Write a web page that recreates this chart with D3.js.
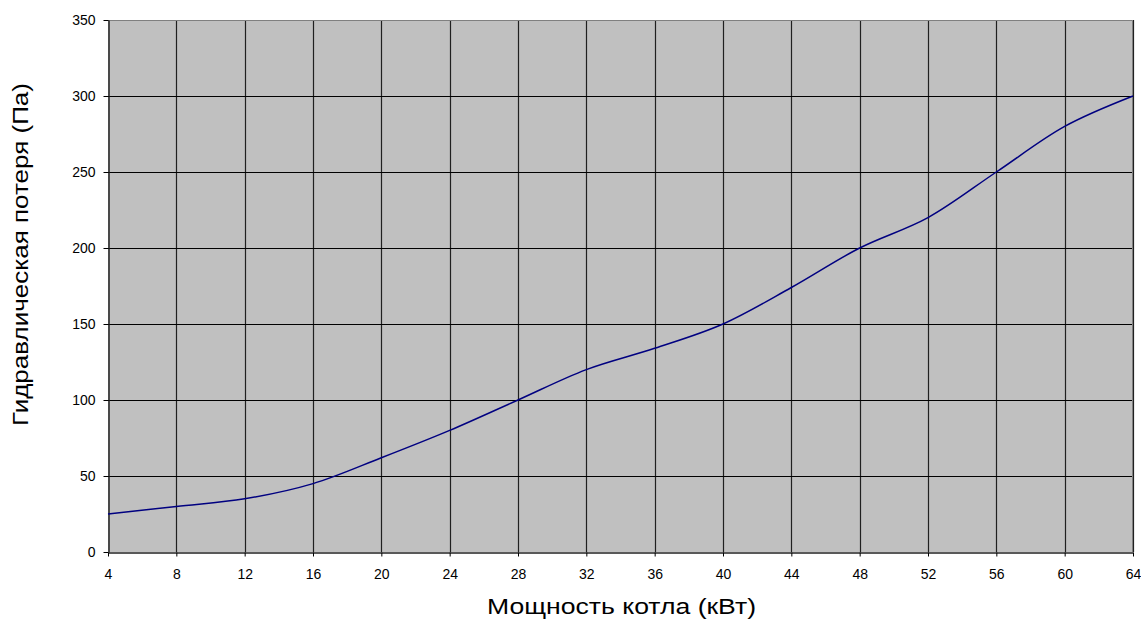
<!DOCTYPE html>
<html><head><meta charset="utf-8">
<script src="https://cdn.jsdelivr.net/npm/d3@7"></script>
<style>html,body{margin:0;padding:0;background:#fff}</style>
</head><body>
<svg id="c" width="1141" height="619"></svg>
<script>
const powerKW = [4,8,12,16,20,24,28,32,36,40,44,48,52,56,60,64];
const lossPa  = [25,30,35,45,62,80,100,120,134,150,174,200,220,250,280,300];
const xTicks = [4,8,12,16,20,24,28,32,36,40,44,48,52,56,60,64];
const yTicks = [0,50,100,150,200,250,300,350];
const xTitle = "Мощность котла (кВт)";
const yTitle = "Гидравлическая потеря (Па)";

const svg = d3.select("#c");
const L = 108, R = 1133, T = 20, B = 552;
const x = d3.scaleLinear().domain([4,64]).range([L,R]);
const y = d3.scaleLinear().domain([0,350]).range([B,T]);
const font = "'Liberation Sans', Arial, sans-serif";

svg.append("rect").attr("x",L).attr("y",T).attr("width",R-L).attr("height",B-T).attr("fill","#c0c0c0");

// grid
svg.append("g").selectAll("line").data(xTicks.slice(1)).join("line")
  .attr("x1",d=>Math.round(x(d))+0.5).attr("x2",d=>Math.round(x(d))+0.5)
  .attr("y1",T).attr("y2",B).attr("stroke","#202020").attr("stroke-width",1.2);
svg.append("g").selectAll("line").data(yTicks.slice(1,-1)).join("line")
  .attr("y1",d=>Math.round(y(d))+0.5).attr("y2",d=>Math.round(y(d))+0.5)
  .attr("x1",L).attr("x2",R).attr("stroke","#000").attr("stroke-width",1);
// border top/right
svg.append("path").attr("d",`M${L},${T+0.5}H${R-0.5}V${B}`).attr("fill","none").attr("stroke","#808080");

// axes
const xAxis = svg.append("g").attr("transform",`translate(0,${B+0.5})`)
  .call(d3.axisBottom(x).tickValues(xTicks).tickSize(4).tickSizeOuter(0).tickPadding(13));
const yAxis = svg.append("g").attr("transform",`translate(${L+0.5},0)`)
  .call(d3.axisLeft(y).tickValues(yTicks).tickSize(5).tickSizeOuter(0).tickPadding(8));
[xAxis,yAxis].forEach(g=>{
  g.selectAll("path").attr("stroke","#222").attr("stroke-width",1.5);
  g.selectAll("line").attr("stroke","#000");
  g.selectAll("text").attr("font-family",font).attr("font-size",14).attr("fill","#000");
});

// line
const line = d3.line().x((d,i)=>x(powerKW[i])).y(d=>y(d)).curve(d3.curveCatmullRom.alpha(0.5));
svg.append("path").attr("d",line(lossPa)).attr("fill","none").attr("stroke","#000080").attr("stroke-width",1.5);

// titles
svg.append("text").attr("x",621.5).attr("y",614).attr("text-anchor","middle")
  .attr("font-family",font).attr("font-size",22)
  .attr("textLength",269).attr("lengthAdjust","spacingAndGlyphs").text(xTitle);
svg.append("text").attr("transform",`translate(28,254.5) rotate(-90)`).attr("text-anchor","middle")
  .attr("font-family",font).attr("font-size",22.5)
  .attr("textLength",343).attr("lengthAdjust","spacingAndGlyphs").text(yTitle);
</script>
</body></html>
